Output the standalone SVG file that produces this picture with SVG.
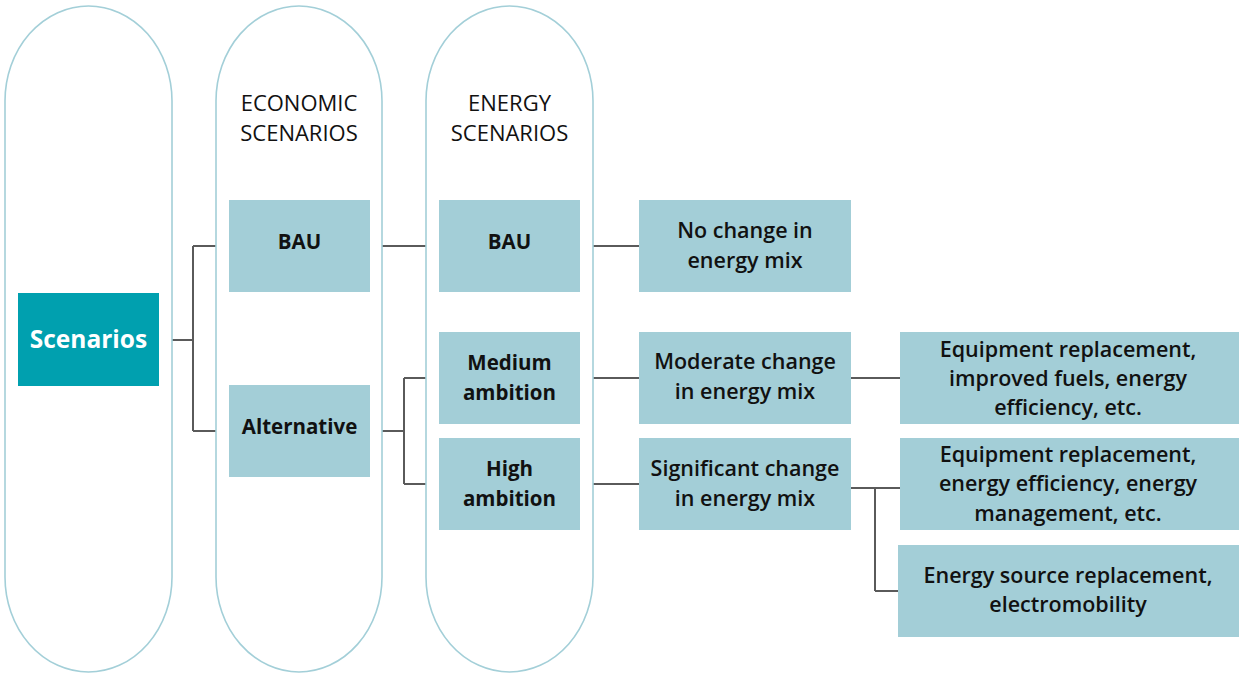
<svg xmlns="http://www.w3.org/2000/svg" width="1239" height="675" viewBox="0 0 1239 675">
<style>
.cap{fill:#fff;stroke:#a3cfd8;stroke-width:1.6}
.box{fill:#a3ced7}
.t{font-family:"Open Sans","Liberation Sans",sans-serif;font-size:21.5px;font-weight:600;fill:#111;text-anchor:middle}
.b{font-weight:700;font-size:20.5px}
.h{font-weight:500;font-size:22px}
.w{fill:#fff;font-weight:700;font-size:24.5px}
.ln{fill:none;stroke:#5a5a5a;stroke-width:2}
</style>
<rect width="1239" height="675" fill="#fff"/>
<g id="connectors">
<path class="ln" d="M172,340 H193 M193,246 V431 M193,246 H216 M193,431 H216"/>
<path class="ln" d="M382,246 H426"/>
<path class="ln" d="M382,431 H404 M404,378 V484 M404,378 H426 M404,484 H426"/>
<path class="ln" d="M593,246 H639 M593,378 H639 M593,484 H639"/>
<path class="ln" d="M851,378 H900"/>
<path class="ln" d="M851,488 H875 M875,488 V591 M875,488 H900 M875,591 H898"/>
</g>
<g id="col-scenarios">
<path class="cap" d="M5,101 A83.5,95 0 0 1 172,101 V577 A83.5,95 0 0 1 5,577 Z"/>
</g>
<g id="col-economic">
<path class="cap" d="M216,101 A83,95 0 0 1 382,101 V577 A83,95 0 0 1 216,577 Z"/>
<text class="t h" x="299" y="111">ECONOMIC</text>
<text class="t h" x="299" y="141">SCENARIOS</text>
</g>
<g id="col-energy">
<path class="cap" d="M426,101 A83.5,95 0 0 1 593,101 V577 A83.5,95 0 0 1 426,577 Z"/>
<text class="t h" x="509.5" y="111">ENERGY</text>
<text class="t h" x="509.5" y="141">SCENARIOS</text>
</g>
<g id="n-scenarios">
<rect x="18" y="293" width="141" height="93" fill="#00a0af"/>
<text class="t w" x="88.5" y="348">Scenarios</text>
</g>
<g id="n-econ-bau">
<rect class="box" x="229" y="200" width="141" height="92"/>
<text class="t b" x="299.5" y="249">BAU</text>
</g>
<g id="n-alternative">
<rect class="box" x="229" y="385" width="141" height="92"/>
<text class="t b" x="299.5" y="434">Alternative</text>
</g>
<g id="n-energy-bau">
<rect class="box" x="439" y="200" width="141" height="92"/>
<text class="t b" x="509.5" y="249">BAU</text>
</g>
<g id="n-medium">
<rect class="box" x="439" y="332" width="141" height="92"/>
<text class="t b" x="509.5" y="370">Medium</text>
<text class="t b" x="509.5" y="400">ambition</text>
</g>
<g id="n-high">
<rect class="box" x="439" y="438" width="141" height="92"/>
<text class="t b" x="509.5" y="476">High</text>
<text class="t b" x="509.5" y="506">ambition</text>
</g>
<g id="n-nochange">
<rect class="box" x="639" y="200" width="212" height="92"/>
<text class="t" x="745" y="238">No change in</text>
<text class="t" x="745" y="268">energy mix</text>
</g>
<g id="n-moderate">
<rect class="box" x="639" y="332" width="212" height="92"/>
<text class="t" x="745" y="369">Moderate change</text>
<text class="t" x="745" y="399">in energy mix</text>
</g>
<g id="n-significant">
<rect class="box" x="639" y="438" width="212" height="92"/>
<text class="t" x="745" y="476">Significant change</text>
<text class="t" x="745" y="506">in energy mix</text>
</g>
<g id="n-equip1">
<rect class="box" x="900" y="332" width="339" height="92"/>
<text class="t" x="1068" y="357">Equipment replacement,</text>
<text class="t" x="1068" y="386">improved fuels, energy</text>
<text class="t" x="1068" y="415">efficiency, etc.</text>
</g>
<g id="n-equip2">
<rect class="box" x="900" y="438" width="339" height="92"/>
<text class="t" x="1068" y="462">Equipment replacement,</text>
<text class="t" x="1068" y="491">energy efficiency, energy</text>
<text class="t" x="1068" y="521">management, etc.</text>
</g>
<g id="n-source">
<rect class="box" x="898" y="545" width="341" height="92"/>
<text class="t" x="1068" y="583">Energy source replacement,</text>
<text class="t" x="1068" y="612">electromobility</text>
</g>
</svg>
